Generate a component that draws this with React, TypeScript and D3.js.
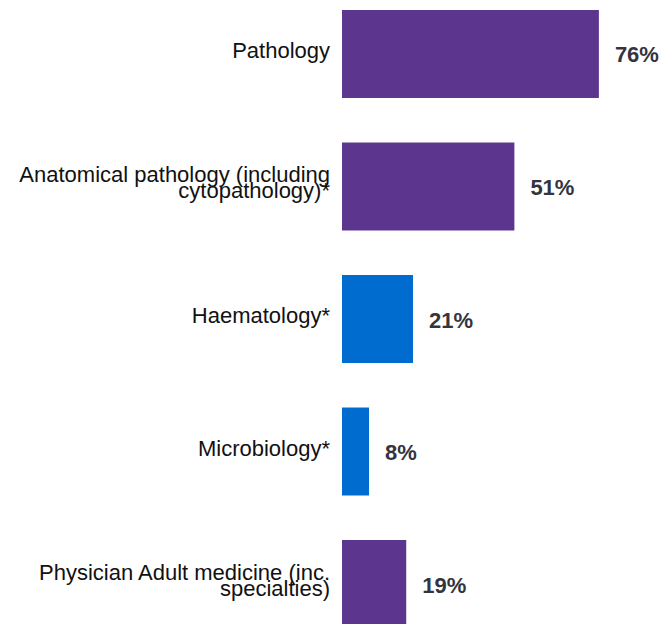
import React, { useEffect, useRef } from "react";
import * as d3 from "d3";

const categories: string[][] = [
  ["Pathology"],
  ["Anatomical pathology (including", "cytopathology)*"],
  ["Haematology*"],
  ["Microbiology*"],
  ["Physician Adult medicine (inc.", "specialties)"],
];
const values = [76, 51, 21, 8, 19];
const colors = ["#5b358e", "#5b358e", "#006ccf", "#006ccf", "#5b358e"];

const App: React.FC = () => {
  const svgRef = useRef<SVGSVGElement | null>(null);

  useEffect(() => {
    if (!svgRef.current) return;
    const svg = d3.select(svgRef.current);
    svg.selectAll("*").remove();

    const width = 662;
    const height = 624;
    svg.attr("width", width).attr("height", height);

    const keys = categories.map((c) => c.join(" "));

    const y = d3.scaleBand<string>()
      .domain(keys)
      .range([10, 628])
      .paddingInner(0.336)
      .paddingOuter(0);

    const x = d3.scaleLinear().domain([0, 100]).range([342, 680]);

    const g = svg.append("g");

    g.selectAll("rect")
      .data(values)
      .enter()
      .append("rect")
      .attr("x", x(0))
      .attr("y", (_, i) => y(keys[i])!)
      .attr("width", (d) => x(d) - x(0))
      .attr("height", y.bandwidth())
      .attr("fill", (_, i) => colors[i]);

    // category labels (tight line spacing, like the original)
    categories.forEach((lines, i) => {
      const cy = y(keys[i])! + y.bandwidth() / 2;
      const lh = 16;
      const t = g.append("text")
        .attr("text-anchor", "end")
        .attr("font-family", "'Liberation Sans', Arial, sans-serif")
        .attr("font-size", 22)
        .attr("fill", "#111");
      lines.forEach((line, j) => {
        t.append("tspan")
          .attr("x", 330)
          .attr("y", cy + 4 + (j - (lines.length - 1) / 2) * lh)
          .text(line);
      });
    });

    // value labels
    g.selectAll("text.val")
      .data(values)
      .enter()
      .append("text")
      .attr("class", "val")
      .attr("x", (d) => x(d) + 16)
      .attr("y", (_, i) => y(keys[i])! + y.bandwidth() / 2 + 8.5)
      .attr("font-family", "'Liberation Sans', Arial, sans-serif")
      .attr("font-size", 22)
      .attr("font-weight", "bold")
      .attr("fill", "#34343f")
      .text((d) => `${d}%`);
  }, []);

  return (
    <div style={{ position: "absolute", left: 0, top: 0 }}>
      <svg ref={svgRef} style={{ display: "block" }}></svg>
    </div>
  );
};

export default App;
